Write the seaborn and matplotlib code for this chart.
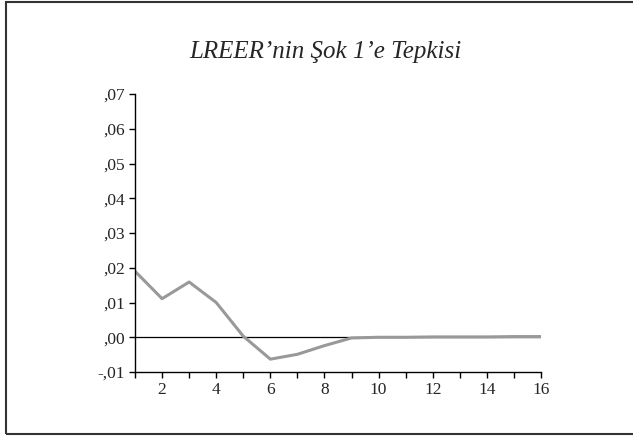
import matplotlib
matplotlib.use("Agg")
import matplotlib.pyplot as plt
import seaborn as sns
import pandas as pd
from matplotlib.ticker import FuncFormatter, MultipleLocator
from matplotlib.patches import Rectangle

periods = list(range(1, 17))
response = [0.0190, 0.0111, 0.0159, 0.0100, 0.0003, -0.0063, -0.0049, -0.0024,
            -0.0002, 0.0000, 0.0000, 0.0001, 0.0001, 0.0001, 0.0002, 0.0002]
title = "LREER\u2019nin \u015eok 1\u2019e Tepkisi"

sns.set_style("white")
plt.rcParams['font.family'] = ['Liberation Serif', 'DejaVu Serif']

df = pd.DataFrame({"period": periods, "response": response})

fig = plt.figure(figsize=(6.33, 4.37), dpi=100)
ax = fig.add_axes([0.2133, 0.1487, 0.6414, 0.6362])

ax.axhline(0, color="black", lw=0.9, zorder=1)
sns.lineplot(data=df, x="period", y="response", ax=ax, color="#999999", lw=2.2, zorder=2)

ax.set_xlim(1, 16)
ax.set_ylim(-0.01, 0.07)
ax.xaxis.set_major_locator(MultipleLocator(2))
ax.xaxis.set_minor_locator(MultipleLocator(1))
ax.yaxis.set_major_locator(MultipleLocator(0.01))

def yfmt(v, pos):
    s = f"{v:.2f}"
    s = s.replace("0.", ",")
    return s
ax.yaxis.set_major_formatter(FuncFormatter(yfmt))

for side in ("top", "right"):
    ax.spines[side].set_visible(False)
for side in ("left", "bottom"):
    ax.spines[side].set_color("black")
    ax.spines[side].set_linewidth(1.0)

ax.tick_params(axis="both", which="both", direction="out", length=4, width=1.0,
               color="black", labelsize=12.5, pad=3)
ax.tick_params(axis="x", which="both", bottom=True, left=False)
ax.tick_params(axis="y", which="major", left=True)
ax.tick_params(axis="y", which="minor", left=False)
ax.set_xlabel("")
ax.set_ylabel("")

fig.text(325 / 633, 1 - 52 / 437, title, ha="center", va="center",
         fontsize=18, style="italic", family=['Liberation Serif', 'DejaVu Serif'])

fig.patches.append(Rectangle((6 / 633, 3 / 437), 1.0, 434 / 437 - 3 / 437 + 0.002,
                             transform=fig.transFigure, fill=False,
                             edgecolor="#333333", lw=1.5, figure=fig))

fig.savefig("out.png", dpi=100)
